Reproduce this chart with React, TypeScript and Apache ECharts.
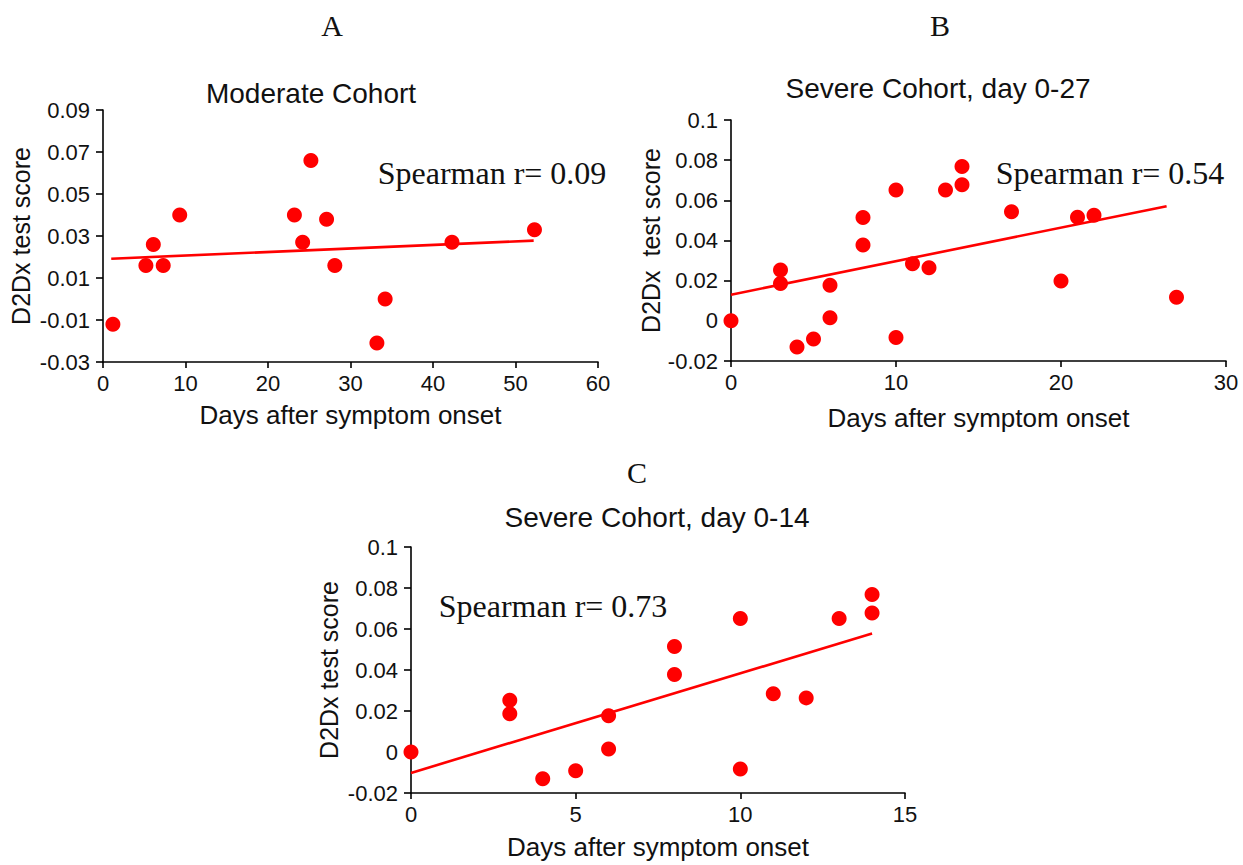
import React, { useEffect, useRef } from "react";
import * as echarts from "echarts";

// Panel A: moderate cohort
const moderateDays = [1.2, 5.2, 6.1, 7.3, 9.3, 23.2, 24.2, 25.2, 27.1, 28.1, 33.2, 34.2, 42.3, 52.3];
const moderateScores = [-0.012, 0.016, 0.026, 0.016, 0.04, 0.04, 0.027, 0.066, 0.038, 0.016, -0.021, 0.0, 0.027, 0.033];
const moderateTrend = [
  [1, 0.0192],
  [52.2, 0.0278],
];

// Panel B: severe cohort, day 0-27
const severeDays = [0, 3, 3, 4, 5, 6, 6, 8, 8, 10, 10, 11, 12, 13, 14, 14, 17, 20, 21, 22, 27];
const severeScores = [0, 0.0253, 0.0186, -0.013, -0.0091, 0.0177, 0.0015, 0.0515, 0.0378, 0.0651, -0.0083, 0.0284, 0.0264, 0.0651, 0.0768, 0.0678, 0.0543, 0.0198, 0.0516, 0.0526, 0.0117];
const severeTrend = [
  [0, 0.013],
  [26.4, 0.0571],
];

// Panel C: severe cohort, day 0-14
const earlyDays = [0, 3, 3, 4, 5, 6, 6, 8, 8, 10, 10, 11, 12, 13, 14, 14];
const earlyScores = [0, 0.0253, 0.0186, -0.013, -0.0091, 0.0177, 0.0015, 0.0515, 0.0378, 0.0651, -0.0083, 0.0284, 0.0264, 0.0651, 0.0768, 0.0678];
const earlyTrend = [
  [0, -0.0102],
  [14, 0.0578],
];

const panelLetters = ["A", "B", "C"];
const panelTitles = ["Moderate Cohort", "Severe Cohort, day 0-27", "Severe Cohort, day 0-14"];
const spearmanTexts = ["Spearman r= 0.09", "Spearman r= 0.54", "Spearman r= 0.73"];
const xTitle = "Days after symptom onset";
const yTitles = ["D2Dx test score", "D2Dx  test score", "D2Dx test score"];

const SANS = '"Liberation Sans", Arial, sans-serif';
const SERIF = '"Liberation Serif", "Times New Roman", serif';
const RED = "#ff0000";
const INK = "#111";

const pairs = (xs: number[], ys: number[]) => xs.map((x, i) => [x, ys[i]]);

export default function App() {
  const ref = useRef<HTMLDivElement>(null);

  useEffect(() => {
    if (!ref.current) return;
    const chart = echarts.init(ref.current, undefined, { renderer: "svg" });

    const fmt = (v: number) => String(parseFloat(v.toFixed(2)));

    const xAxisBase = (idx: number, min: number, max: number, interval: number, gap: number) => ({
      type: "value",
      gridIndex: idx,
      min,
      max,
      interval,
      name: xTitle,
      nameLocation: "middle",
      nameGap: gap,
      nameTextStyle: { fontFamily: SANS, fontSize: 26, color: INK },
      splitLine: { show: false },
      axisLine: { show: true, onZero: false, lineStyle: { color: "#000", width: 1.6 } },
      axisTick: { show: true, inside: false, length: 6, lineStyle: { color: "#000", width: 1.6 } },
      axisLabel: { fontFamily: SANS, fontSize: 22, color: INK, margin: 10 },
    });

    const yAxisBase = (idx: number, min: number, max: number, gap: number, name: string) => ({
      type: "value",
      gridIndex: idx,
      min,
      max,
      interval: 0.02,
      name,
      nameLocation: "middle",
      nameRotate: 90,
      nameGap: gap,
      nameTextStyle: { fontFamily: SANS, fontSize: 25, color: INK },
      splitLine: { show: false },
      axisLine: { show: true, onZero: false, lineStyle: { color: "#000", width: 1.6 } },
      axisTick: { show: true, inside: false, length: 7, lineStyle: { color: "#000", width: 1.6 } },
      axisLabel: { fontFamily: SANS, fontSize: 22, color: INK, margin: 13, formatter: fmt },
    });

    const scatter = (idx: number, data: number[][]) => ({
      type: "scatter",
      xAxisIndex: idx,
      yAxisIndex: idx,
      data,
      symbol: "circle",
      symbolSize: 15,
      itemStyle: { color: RED, opacity: 1 },
      z: 3,
    });

    const trend = (idx: number, data: number[][]) => ({
      type: "line",
      xAxisIndex: idx,
      yAxisIndex: idx,
      data,
      symbol: "none",
      lineStyle: { color: RED, width: 2.6 },
      z: 2,
    });

    const txt = (text: string, x: number, y: number, font: string) => ({
      type: "text",
      x,
      y,
      style: {
        text,
        font,
        fill: INK,
        textAlign: "center",
        textVerticalAlign: "middle",
      },
    });

    chart.setOption({
      animation: false,
      backgroundColor: "#fff",
      grid: [
        { left: 103, top: 110, width: 495, height: 252 },
        { left: 731, top: 120, width: 495, height: 241 },
        { left: 411, top: 547, width: 494, height: 246 },
      ],
      xAxis: [
        xAxisBase(0, 0, 60, 10, 40),
        xAxisBase(1, 0, 30, 10, 44),
        xAxisBase(2, 0, 15, 5, 41),
      ],
      yAxis: [
        yAxisBase(0, -0.03, 0.09, 70, yTitles[0]),
        yAxisBase(1, -0.02, 0.1, 66, yTitles[1]),
        yAxisBase(2, -0.02, 0.1, 70, yTitles[2]),
      ],
      series: [
        trend(0, moderateTrend),
        scatter(0, pairs(moderateDays, moderateScores)),
        trend(1, severeTrend),
        scatter(1, pairs(severeDays, severeScores)),
        trend(2, earlyTrend),
        scatter(2, pairs(earlyDays, earlyScores)),
      ],
      graphic: [
        txt(panelLetters[0], 332, 25, `30px ${SERIF}`),
        txt(panelLetters[1], 940, 25, `30px ${SERIF}`),
        txt(panelLetters[2], 637, 472, `30px ${SERIF}`),
        txt(panelTitles[0], 311, 93, `28px ${SANS}`),
        txt(panelTitles[1], 938, 88, `28px ${SANS}`),
        txt(panelTitles[2], 657, 517, `28px ${SANS}`),
        txt(spearmanTexts[0], 492, 173, `32px ${SERIF}`),
        txt(spearmanTexts[1], 1110, 173, `32px ${SERIF}`),
        txt(spearmanTexts[2], 553, 606, `32px ${SERIF}`),
      ],
    });

    return () => chart.dispose();
  }, []);

  return (
    <div
      ref={ref}
      style={{ position: "absolute", left: 0, top: 0, width: 1243, height: 865, background: "#fff" }}
    />
  );
}
